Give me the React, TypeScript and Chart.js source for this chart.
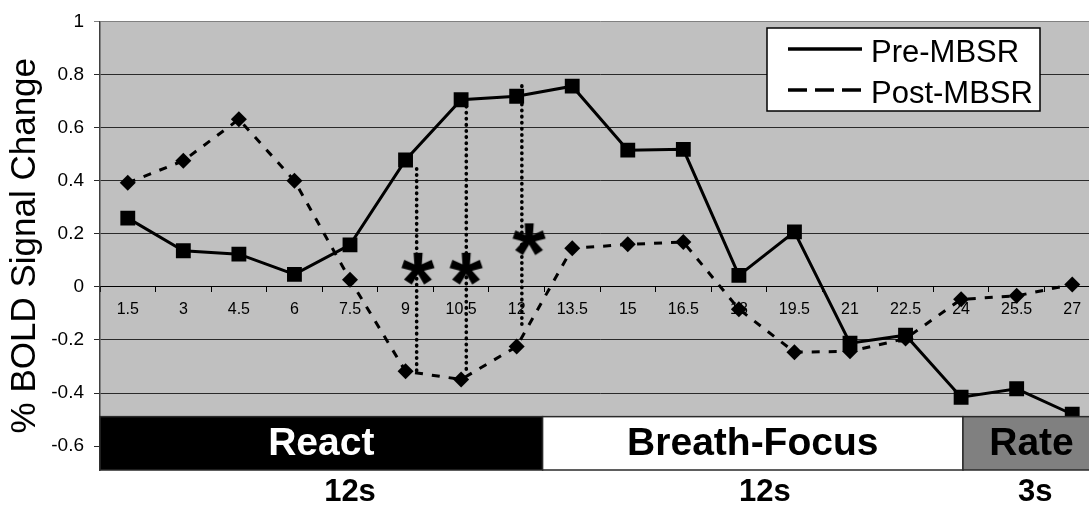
import React, { useEffect, useRef } from 'react';
import { Chart, registerables } from 'chart.js';

Chart.register(...registerables);

// ---- data ----
const timePoints = [1.5, 3, 4.5, 6, 7.5, 9, 10.5, 12, 13.5, 15, 16.5, 18, 19.5, 21, 22.5, 24, 25.5, 27];
const preMBSR = [0.259, 0.136, 0.123, 0.047, 0.158, 0.478, 0.705, 0.718, 0.756, 0.515, 0.518, 0.043, 0.207, -0.212, -0.182, -0.416, -0.384, -0.48];
const postMBSR = [0.392, 0.475, 0.631, 0.4, 0.027, -0.318, -0.349, -0.225, 0.145, 0.16, 0.169, -0.084, -0.246, -0.243, -0.195, -0.047, -0.034, 0.009];

const seriesLabels = ['Pre-MBSR', 'Post-MBSR'];
const yTitle = '% BOLD Signal Change';

// significance markers (asterisks) and the dotted connectors
const starX = [9.34, 10.64, 12.34];
const starY = [0.068, 0.068, 0.179];
const connectorX = [9.3, 10.64, 12.14];
const connectorTop = [0.445, 0.68, 0.757];
const connectorBottom = [-0.315, -0.33, -0.147];

// task phases (in seconds)
const phaseLabels = ['React', 'Breath-Focus', 'Rate'];
const phaseStart = [0.75, 12.7, 24.05];
const phaseEnd = [12.7, 24.05, 27.75];
const phaseTop = -0.489;
const phaseFill = ['#000000', '#ffffff', '#808080'];
const phaseText = ['#ffffff', '#000000', '#000000'];
const durationLabels = ['12s', '12s', '3s'];
const durationX = [7.5, 18.7, 26.0];

const yTicks = [1, 0.8, 0.6, 0.4, 0.2, 0, -0.2, -0.4, -0.6];

const FONT = '"Liberation Sans", Arial, sans-serif';

function makeStar(): HTMLCanvasElement {
  const c = document.createElement('canvas');
  c.width = 52;
  c.height = 52;
  const g = c.getContext('2d')!;
  g.font = `bold 86px ${FONT}`;
  g.textAlign = 'left';
  g.textBaseline = 'alphabetic';
  const m = g.measureText('*');
  const x = 26 - (m.actualBoundingBoxRight - m.actualBoundingBoxLeft) / 2;
  const y = 26 + (m.actualBoundingBoxAscent - m.actualBoundingBoxDescent) / 2;
  g.fillStyle = '#000';
  g.fillText('*', x, y);
  return c;
}

const decorPlugin = {
  id: 'decor',
  beforeDraw(chart: any) {
    const { ctx, chartArea: a } = chart;
    ctx.save();
    ctx.fillStyle = '#C0C0C0';
    ctx.fillRect(a.left, a.top, a.right - a.left, a.bottom - a.top);
    ctx.restore();
  },
  afterDatasetsDraw(chart: any) {
    const { ctx, chartArea: a } = chart;
    const xs = chart.scales.x;
    const ys = chart.scales.y;
    const top = ys.getPixelForValue(phaseTop);
    const bottom = a.bottom;
    ctx.save();
    for (let i = 0; i < phaseLabels.length; i++) {
      const l = xs.getPixelForValue(phaseStart[i]);
      const r = xs.getPixelForValue(phaseEnd[i]);
      ctx.fillStyle = phaseFill[i];
      ctx.fillRect(l, top, r - l, bottom - top);
      ctx.strokeStyle = '#2a2a2a';
      ctx.lineWidth = 1.5;
      ctx.strokeRect(l, top, r - l, bottom - top);
      ctx.fillStyle = phaseText[i];
      ctx.font = `bold 39px ${FONT}`;
      ctx.textAlign = 'center';
      ctx.textBaseline = 'middle';
      ctx.fillText(phaseLabels[i], (l + r) / 2, (top + bottom) / 2 + 1);
      ctx.fillStyle = '#000';
      ctx.font = `bold 31px ${FONT}`;
      ctx.fillText(durationLabels[i], xs.getPixelForValue(durationX[i]), 492);
    }

    // legend
    const lx = 767, ly = 28, lw = 273, lh = 83;
    ctx.fillStyle = '#fff';
    ctx.fillRect(lx, ly, lw, lh);
    ctx.strokeStyle = '#000';
    ctx.lineWidth = 1.5;
    ctx.strokeRect(lx, ly, lw, lh);
    const rows = [49, 90];
    const dashes = [[], [19, 8]];
    chart.data.datasets.slice(0, 2).forEach((ds: any, i: number) => {
      ctx.beginPath();
      ctx.setLineDash(dashes[i]);
      ctx.lineWidth = 3.5;
      ctx.strokeStyle = '#000';
      ctx.moveTo(788, rows[i]);
      ctx.lineTo(862, rows[i]);
      ctx.stroke();
      ctx.setLineDash([]);
      ctx.fillStyle = '#000';
      ctx.font = `31px ${FONT}`;
      ctx.textAlign = 'left';
      ctx.textBaseline = 'middle';
      ctx.fillText(ds.label, 871, rows[i] + 4);
    });
    ctx.restore();
  },
};

export default function App() {
  const ref = useRef<HTMLCanvasElement | null>(null);

  useEffect(() => {
    if (!ref.current) return;
    Chart.defaults.font.family = FONT;
    Chart.defaults.color = '#000';
    const star = makeStar();

    const connectorSets = connectorX.map((x, i) => ({
      label: 'conn' + i,
      data: [
        { x, y: connectorTop[i] },
        { x, y: connectorBottom[i] },
      ],
      borderColor: '#000',
      borderWidth: 3.6,
      borderDash: [0.5, 5.6],
      borderCapStyle: 'round',
      pointRadius: 0,
      showLine: true,
    }));

    const chart = new Chart(ref.current, {
      type: 'line',
      data: {
        datasets: [
          {
            label: seriesLabels[0],
            data: timePoints.map((t, i) => ({ x: t, y: preMBSR[i] })),
            borderColor: '#000',
            backgroundColor: '#000',
            borderWidth: 3,
            pointStyle: 'rect',
            pointRadius: 10.5,
            pointBorderWidth: 0,
            pointBackgroundColor: '#000',
            tension: 0,
          },
          {
            label: seriesLabels[1],
            data: timePoints.map((t, i) => ({ x: t, y: postMBSR[i] })),
            borderColor: '#000',
            backgroundColor: '#000',
            borderWidth: 3,
            borderDash: [8, 9],
            pointStyle: 'rectRot',
            pointRadius: 8,
            pointBorderWidth: 0,
            pointBackgroundColor: '#000',
            tension: 0,
          },
          {
            label: 'significance',
            data: starX.map((x, i) => ({ x, y: starY[i] })),
            showLine: false,
            pointStyle: star as any,
            pointRadius: 12,
          },
          ...(connectorSets as any[]),
        ],
      },
      options: {
        responsive: false,
        animation: false,
        events: [],
        layout: { autoPadding: false, padding: { top: 13, bottom: 42, left: 0, right: 0 } },
        plugins: { legend: { display: false }, tooltip: { enabled: false } },
        scales: {
          x: {
            type: 'linear',
            position: { y: 0 } as any,
            min: 0.75,
            max: 27.75,
            afterBuildTicks: (scale: any) => {
              scale.ticks = timePoints.map((v) => ({ value: v }));
            },
            ticks: {
              autoSkip: false,
              maxRotation: 0,
              padding: 8,
              font: { size: 16 },
              color: '#000',
              callback: (v: any) => String(v),
            },
            grid: {
              offset: true,
              drawOnChartArea: false,
              drawTicks: true,
              tickLength: 5,
              color: '#000',
            },
            border: { display: true, color: '#000', width: 1 },
          },
          y: {
            type: 'linear',
            min: -0.69,
            max: 1,
            afterFit: (scale: any) => {
              scale.width = 100;
            },
            afterBuildTicks: (scale: any) => {
              scale.ticks = yTicks.map((v) => ({ value: v }));
            },
            ticks: {
              padding: 10,
              font: { size: 19 },
              color: '#000',
              callback: (v: any) => String(+Number(v).toFixed(1)),
            },
            grid: {
              color: (c: any) => (c.tick && c.tick.value === 1 ? '#808080' : '#2a2a2a'),
              lineWidth: 1,
              tickLength: 6,
            },
            border: { display: true, color: '#404040', width: 1.5 },
            title: {
              display: true,
              text: yTitle,
              font: { size: 35 },
              color: '#000',
              padding: { top: 4, bottom: 0 },
            },
          },
        },
      },
      plugins: [decorPlugin],
    } as any);
    return () => chart.destroy();
  }, []);

  return (
    <div style={{ position: 'absolute', left: 0, top: 0, width: 1089, height: 512, overflow: 'hidden', background: '#fff' }}>
      <canvas ref={ref} width={1100} height={512} style={{ display: 'block' }} />
    </div>
  );
}
